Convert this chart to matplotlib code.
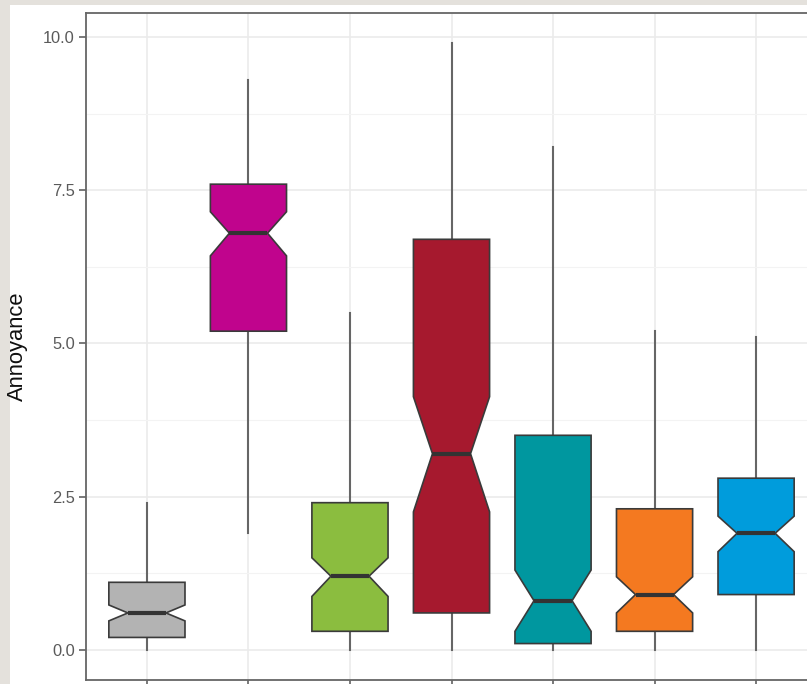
import matplotlib
matplotlib.use("Agg")
import matplotlib.pyplot as plt
from matplotlib.patches import Rectangle
from matplotlib.ticker import MultipleLocator

# Summary statistics per group (notched box plots)
groups = ["G1", "G2", "G3", "G4", "G5", "G6", "G7"]
medians = [0.6, 6.8, 1.2, 3.2, 0.8, 0.9, 1.9]
q1 = [0.2, 5.2, 0.3, 0.6, 0.1, 0.3, 0.9]
q3 = [1.1, 7.6, 2.4, 6.7, 3.5, 2.3, 2.8]
whisker_low = [0.0, 1.9, 0.0, 0.0, 0.0, 0.0, 0.0]
whisker_high = [2.4, 9.3, 5.5, 9.9, 8.2, 5.2, 5.1]
notch_low = [0.47, 6.43, 0.87, 2.25, 0.30, 0.60, 1.60]
notch_high = [0.73, 7.15, 1.50, 4.13, 1.30, 1.19, 2.18]
fill_colors = ["#B3B3B3", "#C0048D", "#8BBD3F", "#A6192E",
               "#00979F", "#F47920", "#009CDC"]
y_ticks = [0.0, 2.5, 5.0, 7.5, 10.0]
y_label = "Annoyance"

W, H = 807, 684
fig = plt.figure(figsize=(W / 100, H / 100), dpi=100)
fig.patch.set_facecolor("#E4E1DC")
fig.add_artist(Rectangle((10 / W, 0), 1, 1 - 5 / H, transform=fig.transFigure,
                         facecolor="white", edgecolor="none", zorder=0))

left_px, right_px, top_px, bottom_px = 86, 817, 13, 680
ax = fig.add_axes([left_px / W, 1 - bottom_px / H,
                   (right_px - left_px) / W, (bottom_px - top_px) / H])
ax.set_facecolor("white")

stats = []
for i, g in enumerate(groups):
    stats.append(dict(label=g, med=medians[i], q1=q1[i], q3=q3[i],
                      whislo=whisker_low[i], whishi=whisker_high[i],
                      cilo=notch_low[i], cihi=notch_high[i], fliers=[]))

positions = list(range(1, len(groups) + 1))
edge = "#3A3A3A"
bp = ax.bxp(stats, positions=positions, widths=0.75, shownotches=True,
            showcaps=False, showfliers=False, patch_artist=True,
            boxprops=dict(edgecolor=edge, linewidth=1.2),
            whiskerprops=dict(color="#666666", linewidth=1.5),
            medianprops=dict(color="#333333", linewidth=3.0),
            manage_ticks=False)
for patch, c in zip(bp["boxes"], fill_colors):
    patch.set_facecolor(c)
    patch.set_zorder(3)
for m in bp["medians"]:
    m.set_zorder(4)

ax.set_xlim(0.4, 7.6)
ax.set_ylim(-0.495, 10.395)
ax.set_xticks(positions)
ax.set_xticklabels([""] * len(positions))
ax.set_yticks(y_ticks)
ax.set_yticklabels([f"{t:.1f}" for t in y_ticks])
ax.yaxis.set_minor_locator(MultipleLocator(1.25))

ax.set_axisbelow(True)
ax.grid(which="major", color="#EBEBEB", linewidth=1.2)
ax.grid(which="minor", axis="y", color="#F3F3F3", linewidth=0.8)

for s in ax.spines.values():
    s.set_color("#666666")
    s.set_linewidth(1.3)

ax.tick_params(axis="both", which="major", length=5, width=1.1,
               color="#555555", labelcolor="#5A5A5A", labelsize=11.8, pad=3)
ax.tick_params(axis="y", which="minor", length=0)
for lab in ax.get_yticklabels():
    lab.set_family("Liberation Sans")

ax.set_ylabel(y_label, fontsize=15.8, family="Liberation Sans", color="#111111")
ax.yaxis.set_label_coords(-(86 - 28) / (right_px - left_px), 0.5)

fig.savefig("out.png", dpi=100, facecolor=fig.get_facecolor())
